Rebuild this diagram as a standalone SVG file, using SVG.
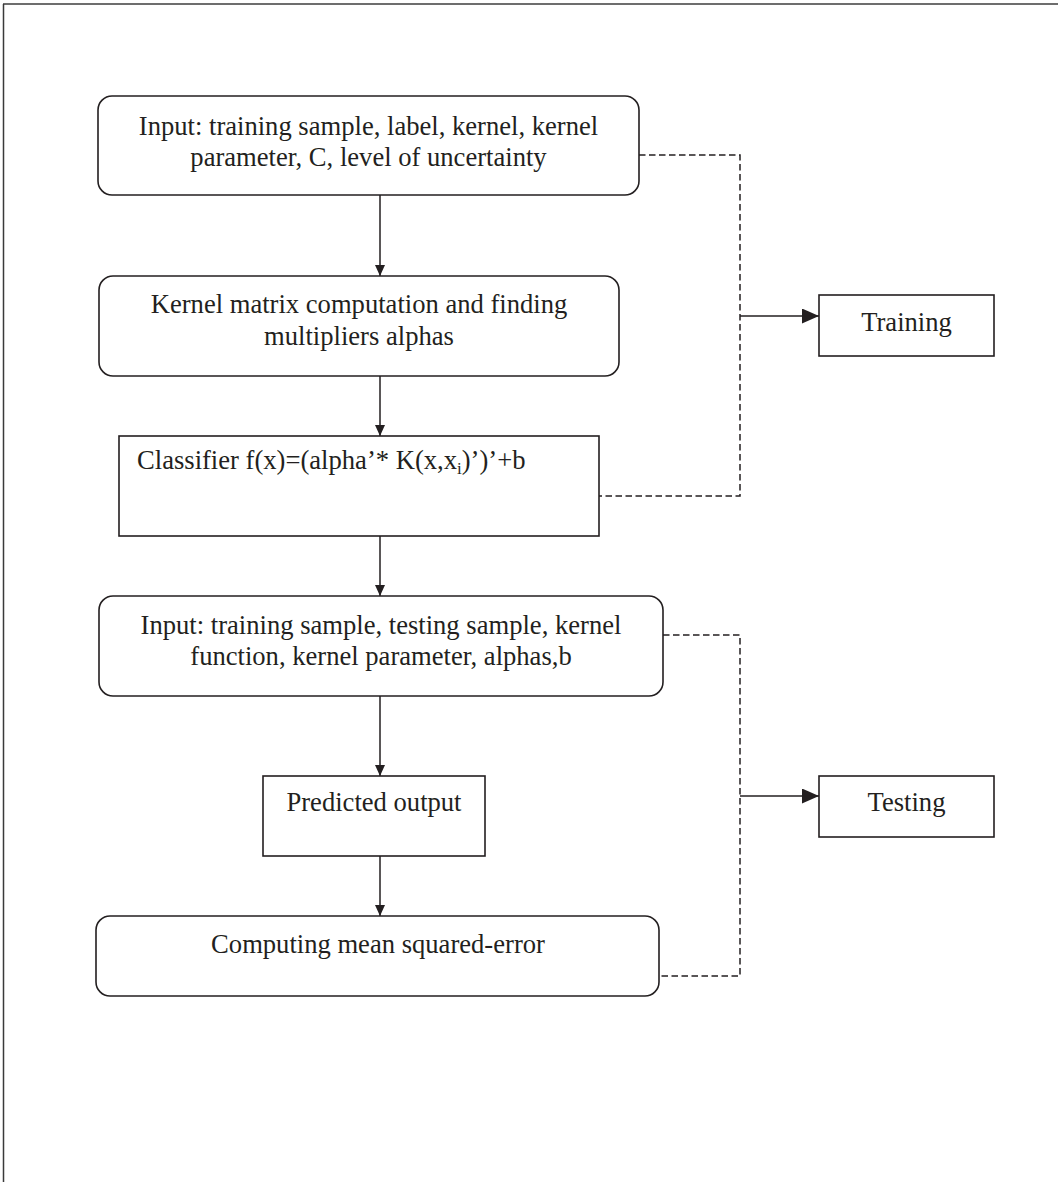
<svg xmlns="http://www.w3.org/2000/svg" width="1058" height="1182" viewBox="0 0 1058 1182">
  <style>
    .box { fill: #ffffff; stroke: #231f20; stroke-width: 1.6; }
    .lbl { font-family: "Liberation Serif", "Times New Roman", serif; font-size: 26.6px; fill: #231f20; }
    .mid { text-anchor: middle; }
    .flow { fill: none; stroke: #231f20; stroke-width: 1.5; }
    .dash { fill: none; stroke: #231f20; stroke-width: 1.5; stroke-dasharray: 6.5 3.5; }
  </style>
  <defs>
    <marker id="headS" markerUnits="userSpaceOnUse" markerWidth="11" markerHeight="10" refX="11" refY="5" orient="auto">
      <path d="M0,0 L11,5 L0,10 z" fill="#231f20"/>
    </marker>
    <marker id="headL" markerUnits="userSpaceOnUse" markerWidth="17" markerHeight="15" refX="17" refY="7.5" orient="auto">
      <path d="M0,0 L17,7.5 L0,15 z" fill="#231f20"/>
    </marker>
  </defs>

  <rect width="1058" height="1182" fill="#ffffff"/>

  <!-- page frame: top rule and left rule -->
  <line x1="3" y1="4" x2="1058" y2="4" stroke="#6d6d6d" stroke-width="1.8"/>
  <line x1="3.5" y1="4" x2="3.5" y2="1182" stroke="#3a3a3a" stroke-width="1.5"/>

  <!-- connectors -->
  <g id="connectors">
    <path class="flow" d="M380,195 V276" marker-end="url(#headS)"/>
    <path class="flow" d="M380,376 V436" marker-end="url(#headS)"/>
    <path class="flow" d="M380,536 V596" marker-end="url(#headS)"/>
    <path class="flow" d="M380,696 V776" marker-end="url(#headS)"/>
    <path class="flow" d="M380,856 V916" marker-end="url(#headS)"/>

    <path class="dash" d="M639,155 H740 V496 H599"/>
    <path class="dash" d="M663,635 H740 V976 H659"/>

    <path class="flow" d="M740,316 H819" marker-end="url(#headL)"/>
    <path class="flow" d="M740,796 H819" marker-end="url(#headL)"/>
  </g>

  <g id="train-input">
    <rect class="box" x="98" y="96" width="541" height="99" rx="14"/>
    <text class="lbl mid" x="368.5" y="135">Input: training sample, label, kernel, kernel</text>
    <text class="lbl mid" x="368.5" y="166">parameter, C, level of uncertainty</text>
  </g>

  <g id="kernel-matrix">
    <rect class="box" x="99" y="276" width="520" height="100" rx="14"/>
    <text class="lbl mid" x="359" y="313">Kernel matrix computation and finding</text>
    <text class="lbl mid" x="359" y="345">multipliers alphas</text>
  </g>

  <g id="classifier">
    <rect class="box" x="119" y="436" width="480" height="100"/>
    <text class="lbl" x="137" y="469">Classifier f(x)=(alpha’* K(x,x<tspan font-size="17" dy="5">i</tspan><tspan dy="-5">)’)’+b</tspan></text>
  </g>

  <g id="test-input">
    <rect class="box" x="99" y="596" width="564" height="100" rx="14"/>
    <text class="lbl mid" x="381" y="634">Input: training sample, testing sample, kernel</text>
    <text class="lbl mid" x="381" y="665">function, kernel parameter, alphas,b</text>
  </g>

  <g id="predicted">
    <rect class="box" x="263" y="776" width="222" height="80"/>
    <text class="lbl mid" x="374" y="811">Predicted output</text>
  </g>

  <g id="mse">
    <rect class="box" x="96" y="916" width="563" height="80" rx="14"/>
    <text class="lbl mid" x="378" y="953">Computing mean squared-error</text>
  </g>

  <g id="training">
    <rect class="box" x="819" y="295" width="175" height="61"/>
    <text class="lbl mid" x="906.5" y="331">Training</text>
  </g>

  <g id="testing">
    <rect class="box" x="819" y="776" width="175" height="61"/>
    <text class="lbl mid" x="906.5" y="811">Testing</text>
  </g>
</svg>
